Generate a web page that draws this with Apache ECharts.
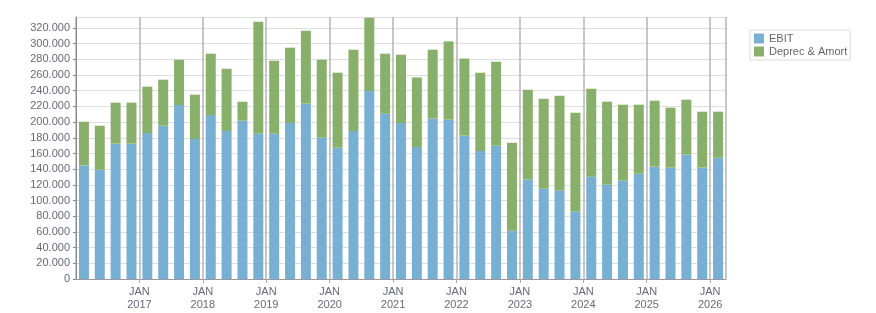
<!DOCTYPE html>
<html>
<head>
<meta charset="utf-8">
<script src="https://cdn.jsdelivr.net/npm/echarts@6/dist/echarts.min.js"></script>
<style>
  html, body { margin: 0; padding: 0; background: #fff; }
  #main { width: 876px; height: 313px; }
</style>
</head>
<body>
<div id="main"></div>
<script>
// quarters 2016 Q1 .. 2026 Q1
const quarters = [];
for (let y = 2016; y <= 2026; y++) {
  for (let q = 1; q <= 4; q++) {
    if (y === 2026 && q > 1) break;
    quarters.push(y + " Q" + q);
  }
}
const ebit = [
  144800, 139300, 172500, 172500, 186100, 195400, 221800, 178500,
  209000, 188700, 201800, 185200, 185200, 198900, 223500, 180100,
  167400, 188700, 239700, 210700, 198900, 168300, 204400, 203100,
  182700, 163200, 169900, 61600, 127000, 115100, 112600, 86200,
  130400, 120200, 125300, 134200, 143200, 141900, 158500, 141900,
  154600
];
const deprec = [
  55700, 56100, 52300, 52300, 59100, 58700, 57800, 56500,
  78200, 79300, 24200, 142800, 93100, 96000, 93000, 99500,
  95600, 103600, 93400, 76500, 87000, 88700, 87900, 99800,
  98300, 99800, 107100, 112200, 114300, 114800, 121100, 125800,
  112200, 105800, 96900, 88000, 84100, 76500, 70100, 71400,
  58700
];
const firstYear = 2016;

const labelColor = "#686878";
const fmt = (v) => String(v).replace(/\B(?=(\d{3})+(?!\d))/g, ".");

const option = {
  animation: false,
  textStyle: { fontFamily: "Liberation Sans" },
  grid: { left: 76, right: 150, top: 17, bottom: 34 },
  legend: {
    orient: "vertical",
    left: 750,
    top: 30,
    itemWidth: 10,
    itemHeight: 10,
    itemGap: 2,
    itemTextGap: 4,
    padding: [3, 3, 3, 4],
    borderColor: "#dcdcdc",
    borderWidth: 1,
    icon: "rect",
    textStyle: { color: "#666", fontSize: 11, fontFamily: "Liberation Sans" },
    data: ["EBIT", "Deprec & Amort"]
  },
  xAxis: [
    {
      type: "category",
      data: quarters,
      axisLine: { lineStyle: { color: "#999" } },
      axisTick: { interval: 0, length: 3, lineStyle: { color: "#999" } },
      axisLabel: { show: false },
      splitLine: { show: false }
    },
    {
      type: "value",
      position: "bottom",
      min: 0,
      max: quarters.length,
      interval: 4,
      axisLine: { show: false },
      axisTick: { show: true, length: 4, lineStyle: { color: "#aaa" } },
      splitLine: { show: true, lineStyle: { color: "#b4b4b4", width: 1.5 } },
      axisLabel: {
        color: labelColor,
        fontSize: 11,
        lineHeight: 13,
        margin: 6,
        showMinLabel: false,
        showMaxLabel: false,
        formatter: (v) => (v > 0 && v % 4 === 0 ? "JAN\n" + (firstYear + v / 4) : "")
      }
    }
  ],
  yAxis: {
    type: "value",
    min: 0,
    max: 334000,
    interval: 20000,
    axisLine: { show: true, lineStyle: { color: "#888" } },
    axisTick: { show: true, length: 3, lineStyle: { color: "#888" } },
    splitLine: { lineStyle: { color: "#dedede" } },
    axisLabel: {
      color: labelColor,
      fontSize: 11,
      margin: 6,
      showMaxLabel: false,
      formatter: fmt
    }
  },
  series: [
    {
      name: "EBIT",
      type: "bar",
      stack: "t",
      data: ebit,
      barCategoryGap: "37%",
      itemStyle: { color: "#78b0d3" }
    },
    {
      name: "Deprec & Amort",
      type: "bar",
      stack: "t",
      data: deprec,
      barCategoryGap: "37%",
      itemStyle: { color: "#88b06b" }
    }
  ]
};

const chart = echarts.init(document.getElementById("main"));
chart.setOption(option);
</script>
</body>
</html>
